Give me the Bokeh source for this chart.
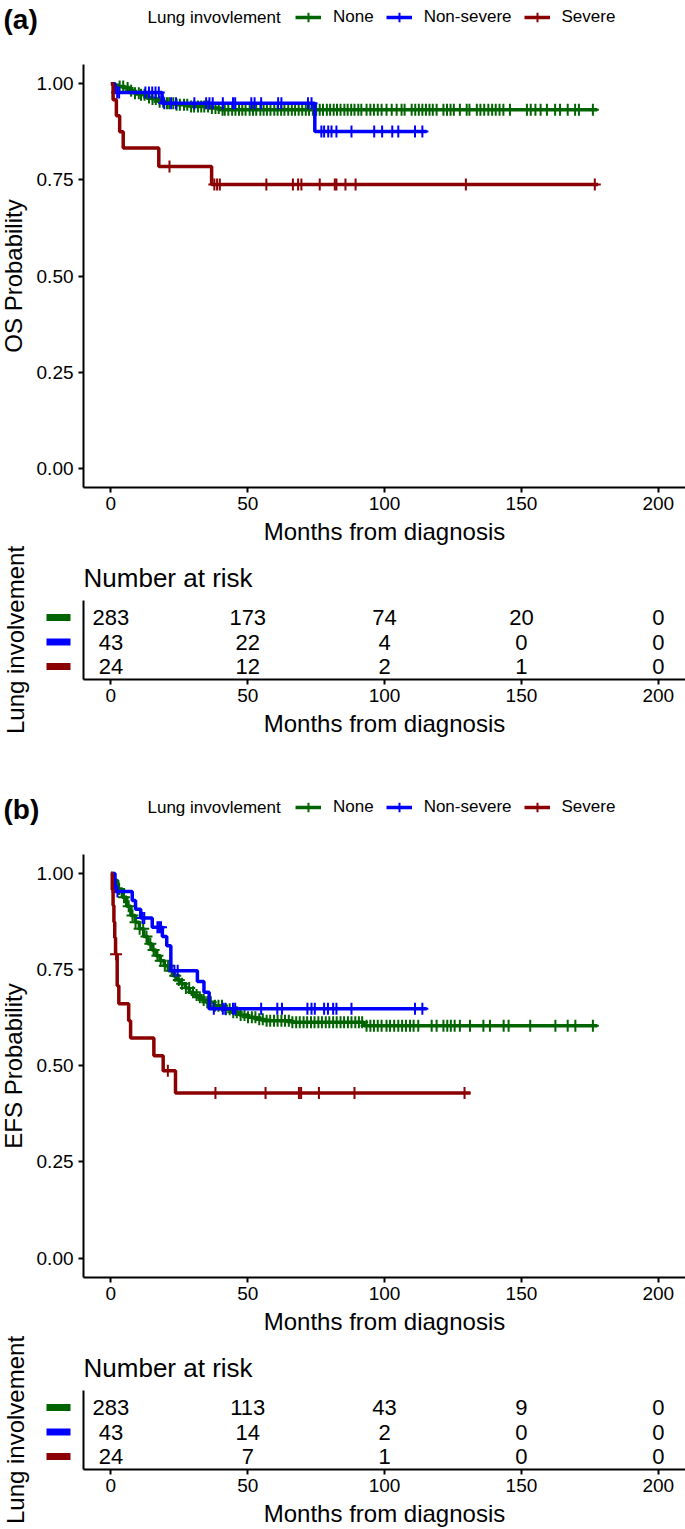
import numpy as np
from bokeh.plotting import figure
from bokeh.layouts import column
from bokeh.models import (Label, Legend, LegendItem, Range1d, FixedTicker,
                          NumeralTickFormatter)
from bokeh.embed import file_html
from bokeh.resources import INLINE
from bokeh.core.properties import value

# ---------------------------------------------------------------- data
groups = ["None", "Non-severe", "Severe"]
legend_title = "Lung invovlement"
risk_title = "Number at risk"
risk_axis_title = "Lung involvement"
x_title = "Months from diagnosis"
panel_tags = ["(a)", "(b)"]
y_titles = ["OS Probability", "EFS Probability"]
x_ticks = [0, 50, 100, 150, 200]
y_ticks = [0.0, 0.25, 0.5, 0.75, 1.0]
risk_times = [0, 50, 100, 150, 200]

# ---- Panel (a): overall survival
os_none_t = [0, 1.5, 3, 5, 7, 8.5, 11, 13, 15, 17.5, 20, 24, 29, 36, 40]
os_none_s = [1.0, 0.996, 0.993, 0.989, 0.982, 0.975, 0.971, 0.964, 0.960, 0.953,
             0.949, 0.945, 0.941, 0.937, 0.932]
os_none_end = 177.7
os_none_cens = [3.2, 4.5, 6.1, 7.4, 8.8, 10.2, 11.0, 12.3, 13.9, 15.2, 16.4, 17.8,
                19.1, 20.5, 21.3, 22.8, 24.0, 25.2, 26.7, 27.9, 29.3, 30.4, 31.8,
                33.0, 34.1, 35.5, 36.9, 38.2, 39.4, 40.8, 41.6, 42.9, 44.3, 45.5,
                46.8, 48.0, 49.2, 50.7, 51.9, 53.1, 54.6, 55.8, 57.0, 58.3, 59.7,
                60.9, 62.2, 63.4, 64.8, 66.1, 67.3, 68.6, 69.9, 71.2, 72.4, 73.8,
                75.0, 76.3, 77.5, 78.9, 80.1, 81.4, 82.6, 83.9, 85.3, 86.5, 87.8,
                89.0, 90.4, 91.5, 93.4, 94.8, 96.1, 97.5, 98.9, 100.7, 102.6, 104.4,
                106.2, 107.3, 109.9, 111.2, 112.5, 113.8, 115.1, 116.4, 117.6, 119.0,
                121.5, 122.8, 124.1, 125.3, 127.5, 130.0, 131.0, 133.7, 135.0, 136.4,
                137.9, 139.3, 140.6, 142.0, 143.4, 145.8, 152.0, 153.4, 155.1, 157.0,
                159.3, 162.3, 164.1, 166.9, 169.6, 171.0, 176.1]

os_nonsev_t = [0, 1.5, 18.7, 74.5]
os_nonsev_s = [1.0, 0.977, 0.949, 0.876]
os_nonsev_end = 115.4
os_nonsev_cens = [2.3, 3.0, 12.6, 13.9, 15.1, 16.3, 17.5, 19.5, 22.0, 23.8, 30.5,
                  34.8, 36.0, 37.2, 40.9, 44.6, 45.4, 51.3, 52.5, 54.9, 61.1, 62.3,
                  72.0, 73.3, 76.9, 77.9, 79.4, 80.6, 82.4, 87.9, 96.2, 99.1, 102.8,
                  105.0, 111.1, 113.8]

os_sev_t = [0, 0.8, 2.0, 3.2, 4.5, 17.5, 36.8]
os_sev_s = [1.0, 0.958, 0.917, 0.875, 0.833, 0.785, 0.738]
os_sev_end = 178.0
os_sev_cens = [21.4, 37.8, 38.8, 39.8, 56.8, 66.5, 68.4, 69.6, 76.3, 81.8, 82.4,
               85.7, 89.4, 129.7, 176.8]

os_risk_none = [283, 173, 74, 20, 0]
os_risk_nonsev = [43, 22, 4, 0, 0]
os_risk_sev = [24, 12, 2, 1, 0]

# ---- Panel (b): event-free survival
efs_none_t = [0, 1.1, 2.5, 4.2, 5.8, 7.3, 8.9, 10.4, 12.0, 13.5, 15.0, 16.5, 18.0,
              19.5, 21.0, 22.6, 24.1, 25.6, 27.2, 28.7, 30.2, 31.7, 33.3, 34.8,
              37.8, 41.0, 43.9, 47.0, 50.0, 53.0, 56.1, 66.0, 92.5]
efs_none_s = [1.0, 0.982, 0.960, 0.938, 0.915, 0.891, 0.873, 0.856, 0.836, 0.817,
              0.801, 0.786, 0.773, 0.760, 0.747, 0.734, 0.723, 0.713, 0.702, 0.691,
              0.684, 0.678, 0.671, 0.665, 0.656, 0.647, 0.639, 0.632, 0.626, 0.621,
              0.617, 0.613, 0.604]
efs_none_end = 177.7
efs_none_cens = [3.0, 4.8, 6.5, 7.9, 9.0, 10.5, 11.8, 13.0, 14.4, 15.6, 17.0, 18.2,
                 19.7, 20.9, 22.2, 23.5, 24.8, 26.0, 27.4, 28.6, 30.0, 31.3, 32.5,
                 33.9, 35.2, 36.5, 38.0, 39.3, 40.6, 42.0, 43.4, 44.7, 46.0, 47.4,
                 48.8, 50.1, 51.5, 52.8, 54.2, 55.5, 56.9, 58.2, 59.6, 60.9, 62.3,
                 63.6, 65.0, 66.3, 67.7, 69.0, 70.4, 71.7, 73.1, 74.4, 75.8, 77.1,
                 78.5, 79.8, 81.2, 82.5, 83.9, 85.2, 86.6, 87.9, 89.3, 90.6, 91.8,
                 93.4, 94.8, 96.1, 97.5, 98.9, 100.7, 102.0, 103.5, 105.0, 106.4,
                 107.8, 109.3, 110.6, 112.3, 117.2, 119.0, 121.5, 122.9, 124.2, 125.6,
                 127.5, 131.2, 136.1, 138.5, 143.5, 145.3, 153.2, 162.4, 166.9, 169.7,
                 176.1]

efs_nonsev_t = [0, 1.5, 7.8, 9.0, 10.9, 15.1, 18.8, 20.4, 21.9, 31.6, 34.0, 35.9]
efs_nonsev_s = [1.0, 0.953, 0.930, 0.907, 0.884, 0.860, 0.836, 0.812, 0.747, 0.719,
                0.691, 0.648]
efs_nonsev_end = 115.4
efs_nonsev_cens = [2.4, 11.6, 12.2, 17.0, 17.6, 18.3, 23.2, 24.4, 37.6, 40.9, 41.8,
                   44.6, 45.4, 54.9, 60.8, 62.5, 71.8, 73.3, 74.5, 77.9, 79.3, 81.2,
                   82.4, 87.9, 111.1, 113.8]

efs_sev_t = [0, 0.5, 0.8, 1.1, 1.4, 1.7, 2.3, 2.9, 6.5, 7.2, 15.7, 19.1, 23.6]
efs_sev_s = [1.0, 0.958, 0.917, 0.874, 0.833, 0.790, 0.708, 0.661, 0.617, 0.572,
             0.526, 0.487, 0.429]
efs_sev_end = 131.4
efs_sev_cens = [1.9, 20.8, 38.2, 56.5, 68.7, 69.5, 76.0, 89.0, 129.2]

efs_risk_none = [283, 113, 43, 9, 0]
efs_risk_nonsev = [43, 14, 2, 0, 0]
efs_risk_sev = [24, 7, 1, 0, 0]

# ---------------------------------------------------------------- style
COLORS = ["#006400", "#0000FF", "#8B0000"]
FONT = "Liberation Sans"
W = 685
PPM = 2.737            # pixels per month
ZERO_PX = 110.4        # page x of month 0
X0 = -ZERO_PX / PPM
X1 = (W - ZERO_PX) / PPM
AXIS_X = -10           # data x where the y axes sit


def px_to_x(px):
    return (px - ZERO_PX) / PPM


def style_axis(ax, tick_size="19px", label_size="24px"):
    ax.axis_line_width = 2
    ax.axis_line_color = "black"
    ax.major_tick_line_width = 2
    ax.major_tick_line_color = "black"
    ax.major_tick_out = 5
    ax.major_tick_in = 0
    ax.minor_tick_line_color = None
    ax.major_label_text_font = FONT
    ax.major_label_text_font_size = tick_size
    ax.major_label_text_color = "black"
    ax.axis_label_text_font = FONT
    ax.axis_label_text_font_size = label_size
    ax.axis_label_text_font_style = "normal"
    ax.axis_label_text_color = "black"


def base_fig(height, y_range, x_axis_y):
    """Frame covers the whole canvas; axes are pinned at fixed data locations."""
    p = figure(width=W, height=height, x_range=Range1d(X0, X1), y_range=y_range,
               min_border_left=0, min_border_right=0, min_border_top=0,
               min_border_bottom=0,
               output_backend="svg", toolbar_location=None, title=None)
    p.xgrid.visible = False
    p.ygrid.visible = False
    p.outline_line_color = None
    p.background_fill_color = "white"
    p.border_fill_color = "white"
    xax = p.xaxis[0]
    style_axis(xax)
    xax.ticker = FixedTicker(ticks=x_ticks)
    xax.fixed_location = x_axis_y
    xax.bounds = (AXIS_X, X1)
    xax.major_label_standoff = 4
    xax.axis_label_standoff = 5
    xax.axis_label = x_title
    return p


def km_plot(tag, ylab, curves, fig_top, fig_bottom, y1_px, y0_px, axis_px):
    ppu = y0_px - y1_px

    def py(page_y):
        return (y0_px - page_y) / ppu

    p = base_fig(fig_bottom - fig_top, Range1d(py(fig_bottom), py(fig_top)),
                 py(axis_px))

    yax = p.yaxis[0]
    style_axis(yax)
    yax.fixed_location = AXIS_X
    yax.bounds = (py(axis_px), 1.05)
    yax.ticker = FixedTicker(ticks=y_ticks)
    yax.formatter = NumeralTickFormatter(format="0.00")
    yax.major_label_standoff = 5
    yax.axis_label_standoff = 7
    yax.axis_label = ylab

    items = []
    for (t, s, end, cens), color, name in zip(curves, COLORS, groups):
        xs = list(t) + [end]
        ys = list(s) + [s[-1]]
        r_line = p.step(xs, ys, mode="after", line_color=color, line_width=3.5)
        idx = np.searchsorted(np.array(t), np.array(cens), side="right") - 1
        cy = np.array(s)[idx]
        r_c = p.scatter(cens, cy, marker="cross", size=12, line_color=color,
                        line_width=2)
        items.append(LegendItem(label=name, renderers=[r_line, r_c]))

    legend_center_px = y1_px - 66
    tag_center_px = y1_px - 64
    leg_h = 24
    frame_h = fig_bottom - fig_top
    leg_top_rel = legend_center_px - leg_h / 2 - fig_top
    leg = Legend(items=items, orientation="horizontal",
                 location=(295, int(round(frame_h - leg_top_rel - leg_h))),
                 glyph_width=26, glyph_height=leg_h, label_height=leg_h,
                 label_standoff=12, spacing=12, padding=0, margin=0,
                 border_line_color=None, background_fill_alpha=0,
                 label_text_font=FONT, label_text_font_size="17px",
                 label_text_color="black")
    p.add_layout(leg)

    p.add_layout(Label(x=px_to_x(147), y=py(legend_center_px),
                       text=legend_title, text_font=FONT, text_font_size="17px",
                       text_baseline="middle", text_align="left",
                       text_color="black"))
    p.add_layout(Label(x=px_to_x(3), y=py(tag_center_px),
                       text=tag, text_font=FONT, text_font_size="28px",
                       text_font_style="bold", text_baseline="middle",
                       text_align="left", text_color="black"))
    return p


def risk_plot(rows, fig_top, fig_bottom, row1_px, axis_px):
    ppu = 24.5

    def py(page_y):
        return 1 + (row1_px - page_y) / ppu

    p = base_fig(fig_bottom - fig_top, Range1d(py(fig_bottom), py(fig_top)),
                 py(axis_px))

    yax = p.yaxis[0]
    style_axis(yax)
    yax.fixed_location = AXIS_X
    yax.bounds = (py(axis_px), py(axis_px - 79))
    yax.ticker = FixedTicker(ticks=[])
    yax.major_tick_out = 0
    yax.major_label_standoff = 0
    yax.axis_label_standoff = 55
    yax.axis_label = risk_axis_title

    ypos = [3, 2, 1]
    p.rect(x=[px_to_x(58)] * 3, y=ypos, width=24, height=7, width_units="screen",
           height_units="screen", fill_color=COLORS, line_color=None)
    for vals, yy in zip(rows, ypos):
        p.text(x=risk_times, y=[yy] * len(risk_times), text=[str(v) for v in vals],
               text_font=value(FONT), text_font_size="22px", text_align="center",
               text_baseline="middle", text_color="black")

    p.add_layout(Label(x=AXIS_X, y=3 + 40 / ppu, text=risk_title,
                       text_font=FONT, text_font_size="26px",
                       text_baseline="middle", text_align="left",
                       text_color="black"))
    return p


curves_a = [(os_none_t, os_none_s, os_none_end, os_none_cens),
            (os_nonsev_t, os_nonsev_s, os_nonsev_end, os_nonsev_cens),
            (os_sev_t, os_sev_s, os_sev_end, os_sev_cens)]
curves_b = [(efs_none_t, efs_none_s, efs_none_end, efs_none_cens),
            (efs_nonsev_t, efs_nonsev_s, efs_nonsev_end, efs_nonsev_cens),
            (efs_sev_t, efs_sev_s, efs_sev_end, efs_sev_cens)]

a1 = km_plot(panel_tags[0], y_titles[0], curves_a, 0, 545, 83.2, 468.0, 487)
a2 = risk_plot([os_risk_none, os_risk_nonsev, os_risk_sev], 545, 737, 666, 679)
b1 = km_plot(panel_tags[1], y_titles[1], curves_b, 737, 1335, 873.0, 1257.5, 1277)
b2 = risk_plot([efs_risk_none, efs_risk_nonsev, efs_risk_sev], 1335, 1527, 1456, 1469)

layout = column(a1, a2, b1, b2, spacing=0)
open("out.html", "w").write(file_html(layout, INLINE))
